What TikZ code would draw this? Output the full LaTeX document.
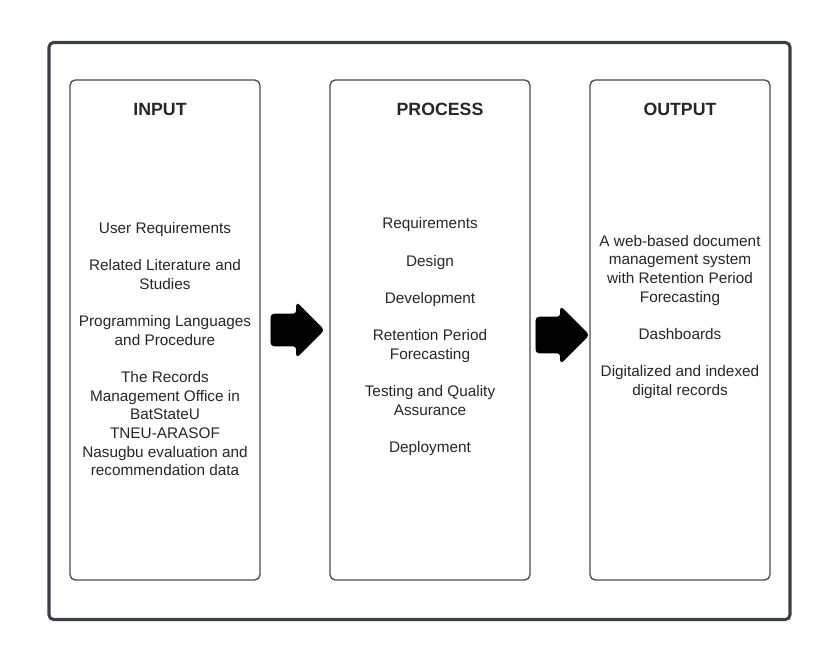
\documentclass[tikz,border=0pt]{standalone}
\usepackage{fontspec}
\setmainfont{Liberation Sans}
\usetikzlibrary{shapes.arrows}
\definecolor{framecol}{HTML}{3B3F48}
\definecolor{boxcol}{HTML}{4A4A4A}
\definecolor{txtcol}{HTML}{262626}
\def\px{0.75pt}
\tikzset{
  stage/.style={draw=boxcol,line width=1pt,rounded corners=4pt,
                minimum height=500*\px,inner sep=0pt},
  title/.style={text=txtcol,font=\fontsize{13.3}{16}\selectfont\bfseries},
  items/.style={text=txtcol,align=center,font=\fontsize{11.5}{14}\selectfont},
  flow/.style={single arrow,fill=black,draw=black,line width=0.6pt,
               rounded corners=2.5pt,inner xsep=0pt,shape border rotate=0}
}
\begin{document}
\begin{tikzpicture}[x=\px,y=-\px]
  \useasboundingbox (0,0) rectangle (840,660);

  % FRAME
  \node[draw=framecol,line width=2.3pt,rounded corners=3.5pt,
        minimum width=741*\px,minimum height=577*\px] (frame) at (419.5,331) {};

  % STAGES
  \node[stage,minimum width=190*\px] (input)   at (165,330) {};
  \node[stage,minimum width=200*\px] (process) at (430,330) {};
  \node[stage,minimum width=180*\px] (output)  at (680,330) {};

  % TITLES
  \node[title] (inputT)   at (160,109) {INPUT};
  \node[title] (processT) at (440,109) {PROCESS};
  \node[title] (outputT)  at (680,109) {OUTPUT};

  % ITEMS
  \node[items] (inputL) at (165,349) {User Requirements\\[14pt]
    Related Literature and\\ Studies\\[14pt]
    Programming Languages\\ and Procedure\\[14pt]
    The Records\\ Management Office in\\ BatStateU\\ TNEU-ARASOF\\
    Nasugbu evaluation and\\ recommendation data};
  \node[items] (processL) at (430,337) {Requirements\\[14pt]
    Design\\[14pt]
    Development\\[14pt]
    Retention Period\\ Forecasting\\[14pt]
    Testing and Quality\\ Assurance\\[14pt]
    Deployment};
  \node[items] (outputL) at (680,317) {A web-based document\\
    management system\\ with Retention Period\\ Forecasting\\[14pt]
    Dashboards\\[14pt]
    Digitalized and indexed\\ digital records};

  % ARROWS
  \node[flow,minimum height=53*\px,inner ysep=15.5*\px,
        single arrow head extend=11.5*\px] (arrowA) at (289.5,330) {};
  \node[flow,minimum height=53*\px,inner ysep=17.5*\px,
        single arrow head extend=10.5*\px] (arrowB) at (553.5,335) {};
\end{tikzpicture}
\end{document}
